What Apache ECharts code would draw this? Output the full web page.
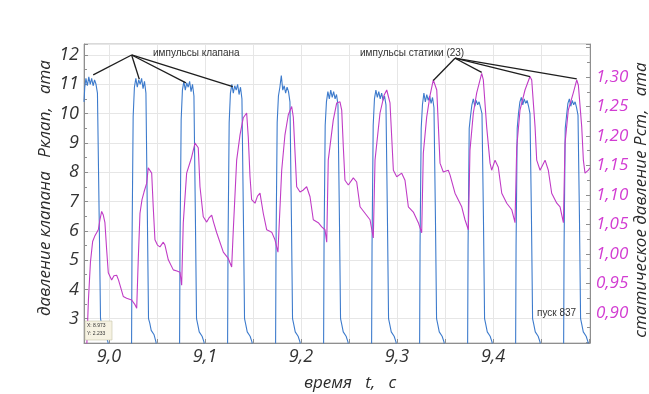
<!DOCTYPE html>
<html><head><meta charset="utf-8">
<script src="https://cdn.jsdelivr.net/npm/echarts@6/dist/echarts.min.js"></script>
<style>html,body{margin:0;padding:0;background:#fff}#c{width:649px;height:394px}</style>
</head><body><div id="c"></div>
<script>
// ---- axis ticks / labels ----
const timeTicks = [9.0, 9.1, 9.2, 9.3, 9.4];
const timeTickLabels = ['9,0', '9,1', '9,2', '9,3', '9,4'];
const valveTicks = [3, 4, 5, 6, 7, 8, 9, 10, 11, 12];
const staticTicks = [0.90, 0.95, 1.00, 1.05, 1.10, 1.15, 1.20, 1.25, 1.30];
const staticTickLabels = ['0,90', '0,95', '1,00', '1,05', '1,10', '1,15', '1,20', '1,25', '1,30'];

// ---- valve pressure Pклап (ata) vs time t (s) ----
const valvePressure = [
  [8.9740,10.4],[8.9748,10.9],[8.9760,11.2],[8.9775,10.95],[8.9790,11.25],[8.9805,11.0],[8.9820,11.2],[8.9835,10.95],[8.9850,11.15],[8.9865,11.0],[8.9880,10.7],[8.9898,6.5],[8.9912,3.0],[8.9925,2.8],[8.9940,2.55],[8.9955,2.6],[8.9970,2.4],[8.9990,2.2],[9.0005,1.0],
  [9.0234,1.0],[9.0240,5.5],[9.0252,9.9],[9.0265,10.9],[9.0280,11.2],[9.0295,10.9],[9.0310,11.15],[9.0325,11.0],[9.0340,11.2],[9.0355,10.85],[9.0370,11.1],[9.0385,10.7],[9.0400,6.5],[9.0412,3.0],[9.0425,2.85],[9.0440,2.6],[9.0455,2.65],[9.0470,2.45],[9.0490,2.2],[9.0505,1.0],
  [9.0734,1.0],[9.0740,5.5],[9.0752,9.8],[9.0765,10.8],[9.0780,11.1],[9.0795,10.8],[9.0810,11.05],[9.0825,10.9],[9.0840,11.1],[9.0855,10.75],[9.0870,11.0],[9.0885,10.6],[9.0900,6.5],[9.0912,3.0],[9.0925,2.8],[9.0940,2.55],[9.0955,2.6],[9.0970,2.4],[9.0990,2.2],[9.1005,1.0],
  [9.1234,1.0],[9.1240,5.5],[9.1252,9.7],[9.1265,10.7],[9.1280,11.0],[9.1295,10.7],[9.1310,10.95],[9.1325,10.8],[9.1340,11.0],[9.1355,10.65],[9.1370,10.9],[9.1385,10.5],[9.1400,6.5],[9.1412,3.0],[9.1425,2.8],[9.1440,2.55],[9.1455,2.6],[9.1470,2.4],[9.1490,2.2],[9.1505,1.0],
  [9.1734,1.0],[9.1740,5.5],[9.1752,9.7],[9.1765,10.6],[9.1780,10.9],[9.1795,11.3],[9.1810,10.8],[9.1825,10.95],[9.1840,10.7],[9.1855,10.9],[9.1870,10.75],[9.1885,10.4],[9.1900,6.5],[9.1912,3.0],[9.1925,2.8],[9.1940,2.55],[9.1955,2.6],[9.1970,2.4],[9.1990,2.2],[9.2005,1.0],
  [9.2234,1.0],[9.2240,5.5],[9.2252,9.6],[9.2265,10.4],[9.2280,10.75],[9.2295,10.5],[9.2310,10.8],[9.2325,10.55],[9.2340,10.75],[9.2355,10.5],[9.2370,10.65],[9.2385,10.3],[9.2400,6.5],[9.2412,3.0],[9.2425,2.8],[9.2440,2.55],[9.2455,2.6],[9.2470,2.4],[9.2490,2.2],[9.2505,1.0],
  [9.2734,1.0],[9.2740,5.5],[9.2752,9.6],[9.2765,10.5],[9.2780,10.8],[9.2795,10.55],[9.2810,10.75],[9.2825,10.5],[9.2840,10.7],[9.2855,10.45],[9.2870,10.6],[9.2885,10.3],[9.2900,6.5],[9.2912,3.0],[9.2925,2.8],[9.2940,2.55],[9.2955,2.6],[9.2970,2.4],[9.2990,2.2],[9.3005,1.0],
  [9.3234,1.0],[9.3240,5.5],[9.3252,9.5],[9.3265,10.3],[9.3280,10.7],[9.3295,10.4],[9.3310,10.65],[9.3325,10.45],[9.3340,10.6],[9.3355,10.35],[9.3370,10.55],[9.3385,10.2],[9.3400,6.5],[9.3412,3.0],[9.3425,2.8],[9.3440,2.55],[9.3455,2.6],[9.3470,2.4],[9.3490,2.2],[9.3505,1.0],
  [9.3734,1.0],[9.3740,5.5],[9.3752,9.5],[9.3765,9.9],[9.3780,10.3],[9.3795,10.5],[9.3810,10.25],[9.3825,10.45],[9.3840,10.3],[9.3855,10.4],[9.3870,10.2],[9.3885,10.0],[9.3900,6.5],[9.3912,3.0],[9.3925,2.8],[9.3940,2.55],[9.3955,2.6],[9.3970,2.4],[9.3990,2.2],[9.4005,1.0],
  [9.4234,1.0],[9.4240,5.5],[9.4252,9.5],[9.4265,10.0],[9.4280,10.4],[9.4295,10.55],[9.4310,10.3],[9.4325,10.5],[9.4340,10.35],[9.4355,10.45],[9.4370,10.25],[9.4385,10.0],[9.4400,6.5],[9.4412,3.0],[9.4425,2.8],[9.4440,2.55],[9.4455,2.6],[9.4470,2.4],[9.4490,2.2],[9.4505,1.0],
  [9.4734,1.0],[9.4740,5.5],[9.4752,9.5],[9.4765,9.9],[9.4780,10.35],[9.4795,10.5],[9.4810,10.25],[9.4825,10.45],[9.4840,10.3],[9.4855,10.4],[9.4870,10.2],[9.4885,9.95],[9.4900,6.5],[9.4912,3.0],[9.4925,2.8],[9.4940,2.55],[9.4955,2.6],[9.4970,2.4],[9.4990,2.2],[9.5005,1.0]
];

// ---- static pressure Pст (ata) vs time t (s) ----
const staticPressure = [
  [8.9768,0.84],[8.9786,0.922],[8.9807,0.986],[8.9830,1.021],[8.9854,1.031],[8.9889,1.041],[8.9906,1.058],[8.9924,1.072],[8.9941,1.066],[8.9958,1.053],[8.9976,1.007],[8.9993,0.968],[9.0028,0.956],[9.0052,0.963],[9.0080,0.964],[9.0099,0.956],[9.0115,0.947],[9.0149,0.928],[9.0184,0.925],[9.0236,0.922],[9.0271,0.914],[9.0289,0.908],
  [9.0305,0.990],[9.0323,1.069],[9.0344,1.092],[9.0365,1.105],[9.0393,1.120],[9.0409,1.146],[9.0427,1.146],[9.0445,1.137],[9.0461,1.080],[9.0479,1.024],[9.0505,1.015],[9.0531,1.012],[9.0566,1.020],[9.0583,1.015],[9.0618,0.990],[9.0670,0.973],[9.0708,0.971],[9.0740,0.969],[9.0757,0.947],
  [9.0774,1.053],[9.0809,1.137],[9.0861,1.164],[9.0896,1.188],[9.0914,1.190],[9.0930,1.180],[9.0948,1.114],[9.0982,1.063],[9.1018,1.054],[9.1042,1.061],[9.1070,1.066],[9.1089,1.054],[9.1122,1.036],[9.1191,1.003],[9.1240,0.993],[9.1260,0.990],[9.1278,0.978],
  [9.1295,1.041],[9.1330,1.159],[9.1365,1.202],[9.1399,1.231],[9.1434,1.239],[9.1451,1.198],[9.1469,1.131],[9.1486,1.092],[9.1521,1.086],[9.1547,1.098],[9.1573,1.103],[9.1607,1.069],[9.1643,1.041],[9.1695,1.037],[9.1729,1.024],[9.1760,1.003],
  [9.1799,1.142],[9.1833,1.202],[9.1868,1.236],[9.1903,1.250],[9.1920,1.232],[9.1955,1.114],[9.1990,1.105],[9.2021,1.108],[9.2059,1.114],[9.2094,1.097],[9.2128,1.058],[9.2180,1.053],[9.2216,1.046],[9.2250,1.041],[9.2268,1.020],
  [9.2284,1.159],[9.2336,1.227],[9.2372,1.256],[9.2406,1.258],[9.2424,1.244],[9.2441,1.181],[9.2458,1.125],[9.2493,1.117],[9.2545,1.129],[9.2580,1.122],[9.2615,1.080],[9.2667,1.069],[9.2719,1.058],[9.2753,1.027],
  [9.2771,1.159],[9.2823,1.239],[9.2865,1.269],[9.2893,1.278],[9.2910,1.275],[9.2927,1.256],[9.2962,1.142],[9.2997,1.131],[9.3049,1.137],[9.3083,1.125],[9.3118,1.080],[9.3170,1.071],[9.3222,1.053],[9.3257,1.036],
  [9.3274,1.171],[9.3309,1.232],[9.3344,1.269],[9.3378,1.295],[9.3414,1.278],[9.3448,1.154],[9.3482,1.139],[9.3534,1.142],[9.3552,1.134],[9.3604,1.103],[9.3674,1.080],[9.3708,1.058],[9.3743,1.041],
  [9.3760,1.176],[9.3795,1.239],[9.3830,1.273],[9.3882,1.306],[9.3899,1.295],[9.3934,1.215],[9.3969,1.154],[9.3986,1.142],[9.4021,1.159],[9.4055,1.147],[9.4091,1.103],[9.4143,1.086],[9.4195,1.075],[9.4229,1.053],
  [9.4247,1.181],[9.4281,1.244],[9.4333,1.278],[9.4385,1.301],[9.4403,1.295],[9.4438,1.215],[9.4455,1.159],[9.4490,1.142],[9.4542,1.159],[9.4576,1.142],[9.4611,1.103],[9.4664,1.086],[9.4698,1.080],[9.4733,1.053],
  [9.4750,1.188],[9.4784,1.244],[9.4836,1.273],[9.4872,1.295],[9.4889,1.286],[9.4924,1.215],[9.4941,1.159],[9.4958,1.137],[9.4993,1.142],[9.5010,1.146]
];

// ---- annotation anchors (data units) ----
const valveNoteApex = [9.0236, 12.0];
const valveNoteTargets = [[8.9836, 11.32], [9.0316, 11.17], [9.0802, 11.05], [9.1289, 10.92]];
const staticNoteApex = [9.3604, 11.89];           // left-axis units
const staticNoteTargets = [[9.3378, 1.294], [9.3882, 1.308], [9.4385, 1.3005], [9.4872, 1.297]]; // right-axis units

const FONT = 'Open Sans';
const AXIS_GRAY = '#8f8f8f';
const GRID_GRAY = '#e6e6e6';

function near(list, v, eps) { return list.findIndex(t => Math.abs(t - v) < eps); }

const chart = echarts.init(document.getElementById('c'), null, {renderer: 'canvas'});
chart.setOption({
  animation: false,
  backgroundColor: '#fff',
  grid: {left: 84, right: 59, top: 44, bottom: 51, show: true, borderColor: '#b5b5b5', borderWidth: 1, backgroundColor: 'transparent'},
  xAxis: {
    type: 'value', min: 8.974, max: 9.501, splitNumber: 10,
    axisLine: {show: true, lineStyle: {color: AXIS_GRAY}},
    axisTick: {show: true, inside: true, length: 4, lineStyle: {color: AXIS_GRAY}},
    splitLine: {show: true, lineStyle: {color: GRID_GRAY, width: 1}},
    axisLabel: {
      showMinLabel: false, showMaxLabel: false, margin: 5,
      fontFamily: FONT, fontStyle: 'italic', fontSize: 18, color: '#333',
      formatter: v => { const i = near(timeTicks, v, 1e-6); return i >= 0 ? timeTickLabels[i] : ''; }
    }
  },
  yAxis: [{
    type: 'value', position: 'left', min: 2.17, max: 12.375, splitNumber: 10,
    axisLine: {show: true, lineStyle: {color: AXIS_GRAY}},
    axisTick: {show: true, inside: true, length: 4, lineStyle: {color: AXIS_GRAY}},
    minorTick: {show: true, splitNumber: 2, length: 3, lineStyle: {color: AXIS_GRAY}},
    splitLine: {show: true, lineStyle: {color: GRID_GRAY, width: 1}},
    axisLabel: {
      showMinLabel: false, showMaxLabel: false, margin: 5,
      fontFamily: FONT, fontStyle: 'italic', fontSize: 18, color: '#333',
      formatter: v => { const i = near(valveTicks, v, 1e-6); return i >= 0 ? String(valveTicks[i]) : ''; }
    }
  }, {
    type: 'value', position: 'right', min: 0.849, max: 1.356, splitNumber: 10,
    axisLine: {show: true, lineStyle: {color: AXIS_GRAY}},
    axisTick: {show: true, inside: true, length: 4, lineStyle: {color: AXIS_GRAY}},
    minorTick: {show: true, splitNumber: 2, length: 3, lineStyle: {color: AXIS_GRAY}},
    splitLine: {show: false},
    axisLabel: {
      showMinLabel: false, showMaxLabel: false, margin: 6,
      fontFamily: FONT, fontStyle: 'italic', fontSize: 17, color: '#d23cd2',
      formatter: v => { const i = near(staticTicks, v, 1e-6); return i >= 0 ? staticTickLabels[i] : ''; }
    }
  }],
  series: [{
    name: 'Рклап', type: 'line', xAxisIndex: 0, yAxisIndex: 0, data: valvePressure,
    showSymbol: false, clip: true, lineStyle: {color: '#3d7bcc', width: 1.1}
  }, {
    name: 'Рст', type: 'line', xAxisIndex: 0, yAxisIndex: 1, data: staticPressure,
    showSymbol: false, clip: true, lineStyle: {color: '#c03cc6', width: 1.1}
  }]
});

const L = p => chart.convertToPixel({xAxisIndex: 0, yAxisIndex: 0}, p);
const R = p => chart.convertToPixel({xAxisIndex: 0, yAxisIndex: 1}, p);
const gfx = [];
const a1 = L(valveNoteApex);
valveNoteTargets.forEach(t => { const e = L(t); gfx.push({type: 'line', shape: {x1: a1[0], y1: a1[1], x2: e[0], y2: e[1]}, style: {stroke: '#1e1e1e', lineWidth: 1.3}, z: 100}); });
const a2 = L(staticNoteApex);
staticNoteTargets.forEach(t => { const e = R(t); gfx.push({type: 'line', shape: {x1: a2[0], y1: a2[1], x2: e[0], y2: e[1]}, style: {stroke: '#1e1e1e', lineWidth: 1.3}, z: 100}); });
const note = (txt, x, y) => ({type: 'text', x: x, y: y, z: 100, style: {text: txt, fill: '#333', font: '10px "Liberation Sans", Arial, sans-serif', textAlign: 'left', textVerticalAlign: 'middle'}});
gfx.push(note('импульсы клапана', 153, 53));
gfx.push(note('импульсы статики (23)', 360, 53));
gfx.push(note('пуск 837', 537, 313));
// cursor readout box
gfx.push({type: 'rect', z: 100, shape: {x: 85, y: 321, width: 27, height: 19}, style: {fill: '#f6f2e2', stroke: '#c8c2a8', lineWidth: 0.6}});
gfx.push({type: 'text', z: 101, x: 87, y: 326, style: {text: 'X: 8.973', fill: '#333', font: '5px "Liberation Sans", sans-serif', textVerticalAlign: 'middle'}});
gfx.push({type: 'text', z: 101, x: 87, y: 334, style: {text: 'Y: 2.233', fill: '#333', font: '5px "Liberation Sans", sans-serif', textVerticalAlign: 'middle'}});
// axis titles
const title = (txt, x, y, rot) => ({type: 'text', x: x, y: y, rotation: rot, z: 100, style: {text: txt, fill: '#2b2b2b', font: 'italic 17px "Open Sans", sans-serif', textAlign: 'center', textVerticalAlign: 'middle'}});
gfx.push(title('давление клапана   Рклап,   ата', 45, 188, Math.PI / 2));
gfx.push(title('статическое давление Рст,   ата', 641, 200, Math.PI / 2));
gfx.push(title('время   t,   с', 350, 383, 0));
chart.setOption({graphic: gfx});
</script>
</body></html>
